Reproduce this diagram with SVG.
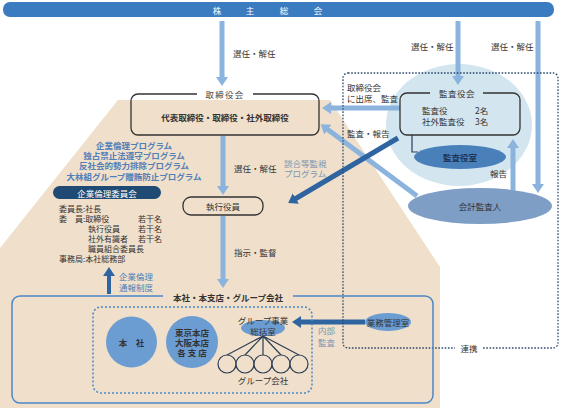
<svg xmlns="http://www.w3.org/2000/svg" width="561" height="413" viewBox="0 0 561 413">
<style>
text{font-family:"Noto Sans CJK JP","Noto Sans CJK SC",sans-serif;font-size:8.5px;fill:#333;dominant-baseline:central}
.c{text-anchor:middle}
.b{font-weight:bold}
.blue{fill:#4f80b8}
.gb{fill:#7a96b4}
.w{fill:#fff}
.m{font-size:8px}
.box{fill:none;stroke:#333;stroke-width:1.3}
.la{stroke:#8ab4de;stroke-width:5;fill:none;marker-end:url(#hl)}
.da{stroke:#2e64a0;stroke-width:5;fill:none;marker-end:url(#hd)}
.ln{stroke:#2c3e55;stroke-width:1.2;fill:none}
</style>
<defs>
<marker id="hl" viewBox="0 0 9 12" refX="1" refY="6" markerWidth="9" markerHeight="12" markerUnits="userSpaceOnUse" orient="auto"><path d="M0,0 L9,6 L0,12 z" fill="#8ab4de"/></marker>
<marker id="hd" viewBox="0 0 9 12" refX="1" refY="6" markerWidth="9" markerHeight="12" markerUnits="userSpaceOnUse" orient="auto"><path d="M0,0 L9,6 L0,12 z" fill="#2e64a0"/></marker>
</defs>
<rect width="561" height="413" fill="#fff"/>
<!-- background shapes -->
<polygon points="0,248 118,100 330,100 440,267 440,408 0,408" fill="#f0dfca"/>
<ellipse cx="459" cy="125" rx="73" ry="61" fill="#d3e6f0"/>

<g id="shareholders">
<rect x="3" y="2" width="551" height="15" rx="7" fill="#3b7cc0"/>
<text class="c w" x="217" y="9.5" font-size="10.5">株</text>
<text class="c w" x="250" y="9.5" font-size="10.5">主</text>
<text class="c w" x="284" y="9.5" font-size="10.5">総</text>
<text class="c w" x="318" y="9.5" font-size="10.5">会</text>
</g>

<g id="connectors">
<line class="la" x1="222" y1="21" x2="222" y2="78"/>
<line class="la" x1="458" y1="21" x2="458" y2="77"/>
<line class="la" x1="538" y1="21" x2="538" y2="185"/>
<line class="la" x1="513" y1="194" x2="513" y2="147"/>
<line class="la" x1="400" y1="108" x2="330" y2="108"/>
<line class="la" x1="417" y1="196" x2="327" y2="129"/>
<line class="la" x1="223" y1="136" x2="223" y2="187"/>
<line class="la" x1="223" y1="216" x2="223" y2="280"/>
<line class="da" x1="398" y1="138" x2="295" y2="199"/>
<line class="da" x1="365" y1="322" x2="300" y2="322"/>
<line class="da" x1="109" y1="294" x2="109" y2="275" style="stroke-width:4"/>
<path class="ln" d="M412,135 V152 H418"/>
<path d="M263,336 L227,355 M263,336 L245,355 M263,336 L263,355 M263,336 L281,355 M263,336 L299,355" class="ln"/>
</g>

<g id="audit-frame">
<rect x="343" y="73" width="215" height="275" rx="5" fill="none" stroke="#2c4a6e" stroke-width="1.3" stroke-dasharray="1.6 1.6"/>
<rect x="455" y="342" width="28" height="12" fill="#fff"/>
<text class="c" x="469" y="348">連携</text>
</g>

<g id="edge-labels">
<text x="233" y="53">選任・解任</text>
<text x="411" y="46">選任・解任</text>
<text x="491" y="46">選任・解任</text>
<text x="347" y="87">取締役会</text>
<text x="347" y="98">に出席、監査</text>
<text x="347" y="133">監査・報告</text>
<text x="490" y="173">報告</text>
<text class="gb" x="284" y="163">談合等監視</text>
<text class="gb" x="284" y="173">プログラム</text>
<text x="234" y="168">選任・解任</text>
<text x="234" y="252">指示・監督</text>
<text class="blue" x="119" y="276">企業倫理</text>
<text class="blue" x="119" y="287">通報制度</text>
<text class="gb" x="318" y="330">内部</text>
<text class="gb" x="318" y="342">監査</text>
</g>

<g id="board">
<rect class="box" x="131" y="94" width="188" height="41" rx="7"/>
<rect x="197" y="88" width="56" height="11" fill="#fff"/>
<text class="c" x="225" y="94" font-size="9" letter-spacing="1.2" style="fill:#444">取締役会</text>
<text class="c b" x="225" y="117" font-size="9.5">代表取締役・取締役・社外取締役</text>
</g>

<g id="auditors-board">
<rect class="box" x="400" y="93" width="120" height="42" rx="7"/>
<rect x="430" y="88" width="53" height="10" fill="#d3e6f0"/>
<text class="c" x="457" y="93" letter-spacing="0.5">監査役会</text>
<text x="422" y="110">監査役</text>
<text x="475" y="110">2名</text>
<text x="422" y="121">社外監査役</text>
<text x="475" y="121">3名</text>
</g>

<g id="auditors-office">
<ellipse cx="460" cy="157" rx="46" ry="12" fill="#4a80ba"/>
<text class="c b" x="460" y="157" font-size="9.5" style="fill:#1e3550">監査役室</text>
</g>

<g id="accounting-auditor">
<ellipse cx="480" cy="206" rx="72" ry="18" fill="#7f9ec6"/>
<text class="c" x="480" y="206">会計監査人</text>
</g>

<g id="executive-officers">
<rect class="box" x="183" y="197" width="80" height="18" rx="8"/>
<text class="c" x="223" y="206">執行役員</text>
</g>

<g id="programs">
<text class="c b blue" x="134" y="145">企業倫理プログラム</text>
<text class="c b blue" x="134" y="155">独占禁止法遵守プログラム</text>
<text class="c b blue" x="134" y="165">反社会的勢力排除プログラム</text>
<text class="c b blue" x="134" y="176">大林組グループ贈賄防止プログラム</text>
</g>

<g id="ethics-committee">
<rect x="53" y="186" width="108" height="13" rx="6.5" fill="#1f4a73"/>
<text class="c w" x="107" y="192.5">企業倫理委員会</text>
<text class="m" x="59" y="208">委員長:社長</text>
<text class="m" x="59" y="218">委　員:取締役</text>
<text class="m" x="138" y="218">若干名</text>
<text class="m" x="88" y="228">執行役員</text>
<text class="m" x="138" y="228">若干名</text>
<text class="m" x="88" y="238">社外有識者</text>
<text class="m" x="138" y="238">若干名</text>
<text class="m" x="88" y="248">職員組合委員長</text>
<text class="m" x="59" y="258.5">事務局:本社総務部</text>
</g>

<g id="company">
<rect x="12" y="296" width="421" height="107" rx="8" fill="none" stroke="#4a88c8" stroke-width="1.5"/>
<rect x="163" y="291" width="130" height="11" fill="#f0dfca"/>
<text class="c b" x="228" y="297">本社・本支店・グループ会社</text>
<rect x="93" y="307" width="219" height="86" rx="8" fill="none" stroke="#4a88c8" stroke-width="1.5" stroke-dasharray="2 2"/>
</g>

<g id="head-office">
<circle cx="131.5" cy="342" r="25.5" fill="#6c9dd2"/>
<text class="c b" x="131.5" y="342">本　社</text>
</g>

<g id="branches">
<circle cx="192" cy="342" r="26" fill="#6c9dd2"/>
<text class="c b" x="192" y="332">東京本店</text>
<text class="c b" x="192" y="342">大阪本店</text>
<text class="c b" x="192" y="352">各 支 店</text>
</g>

<g id="group-office">
<ellipse cx="263" cy="328" rx="22" ry="8" fill="#6c9dd2"/>
<text class="c" x="263" y="320">グループ事業</text>
<text class="c" x="263" y="331">総括室</text>
</g>

<g id="group-companies">
<circle cx="227" cy="364" r="9" fill="#f0dfca" stroke="#2c3e55" stroke-width="1.2"/>
<circle cx="245" cy="364" r="9" fill="#f0dfca" stroke="#2c3e55" stroke-width="1.2"/>
<circle cx="263" cy="364" r="9" fill="#f0dfca" stroke="#2c3e55" stroke-width="1.2"/>
<circle cx="281" cy="364" r="9" fill="#f0dfca" stroke="#2c3e55" stroke-width="1.2"/>
<circle cx="299" cy="364" r="9" fill="#f0dfca" stroke="#2c3e55" stroke-width="1.2"/>
<text class="c" x="263" y="380">グループ会社</text>
</g>

<g id="business-management">
<ellipse cx="388" cy="322" rx="23" ry="9" fill="#6c9dd2"/>
<text class="c" x="388" y="322">業務管理室</text>
</g>
</svg>
